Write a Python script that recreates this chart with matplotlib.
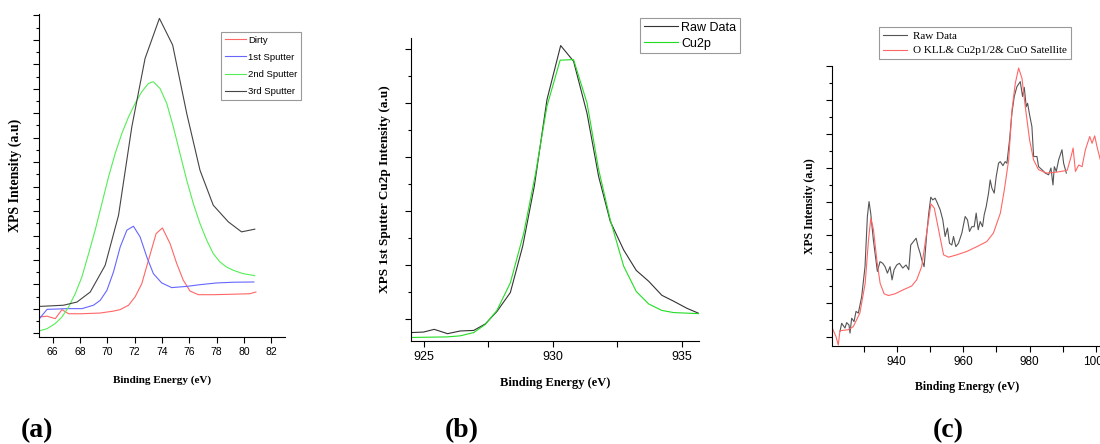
import matplotlib.pyplot as plt
from matplotlib.ticker import MultipleLocator

# (a) XPS spectra after successive sputtering
dirty_x = [65.03, 65.59, 66.19, 66.68, 67.17, 68.02, 69.48, 70.45, 70.94, 71.55, 72.03, 72.52,
           73.01, 73.57, 74.03, 74.59, 75.08, 75.56, 76.05, 76.66, 77.75, 79.21, 80.43, 80.87]
dirty_y = [0.67, 0.70, 0.60, 0.97, 0.80, 0.80, 0.83, 0.91, 0.97, 1.15, 1.49, 2.03,
           2.99, 4.08, 4.31, 3.67, 2.85, 2.17, 1.73, 1.58, 1.58, 1.60, 1.62, 1.69]
sp1_x = [65.03, 65.59, 67.05, 68.14, 68.99, 69.48, 69.97, 70.45, 70.94, 71.43, 71.91, 72.40,
         72.89, 73.37, 73.98, 74.71, 75.81, 76.78, 77.99, 79.21, 80.72]
sp1_y = [0.60, 0.98, 1.01, 1.01, 1.15, 1.35, 1.76, 2.51, 3.53, 4.22, 4.38, 3.94,
         3.12, 2.44, 2.06, 1.87, 1.92, 1.99, 2.06, 2.09, 2.10]
sp2_x = [65.03, 65.59, 66.19, 66.68, 67.17, 67.65, 68.14, 68.63, 69.11, 69.60, 70.09, 70.57,
         71.06, 71.55, 72.03, 72.52, 73.01, 73.37, 73.86, 74.35, 74.83, 75.32, 75.81, 76.29,
         76.78, 77.27, 77.75, 78.24, 78.73, 79.21, 79.94, 80.79]
sp2_y = [0.10, 0.19, 0.40, 0.67, 1.08, 1.62, 2.31, 3.26, 4.22, 5.31, 6.40, 7.35,
         8.17, 8.85, 9.40, 9.88, 10.22, 10.29, 10.01, 9.40, 8.44, 7.35, 6.26, 5.31,
         4.49, 3.81, 3.26, 2.92, 2.71, 2.58, 2.44, 2.36]
sp3_x = [65.03, 66.80, 67.78, 68.75, 69.84, 70.82, 71.79, 72.76, 73.81, 74.78, 75.81, 76.78,
         77.75, 78.85, 79.82, 80.79]
sp3_y = [1.10, 1.15, 1.28, 1.69, 2.78, 4.83, 8.44, 11.24, 12.88, 11.79, 8.99, 6.67,
         5.24, 4.56, 4.15, 4.26]

# (b) Cu2p after 1st sputter
raw_b_x = [924.51, 925.0, 925.41, 925.93, 926.42, 926.94, 927.39, 927.84, 928.36, 928.84,
           929.29, 929.78, 930.31, 930.81, 931.33, 931.78, 932.23, 932.75, 933.24, 933.72,
           934.23, 934.69, 935.20, 935.69]
raw_b_y = [-0.25, -0.24, -0.19, -0.27, -0.22, -0.21, -0.09, 0.14, 0.49, 1.35,
           2.46, 4.06, 5.06, 4.77, 3.81, 2.64, 1.81, 1.28, 0.90, 0.70,
           0.44, 0.33, 0.20, 0.10]
fit_b_x = [924.51, 925.90, 926.42, 926.94, 927.39, 927.84, 928.36, 928.88, 929.34, 929.78,
           930.29, 930.81, 931.33, 931.78, 932.23, 932.75, 933.24, 933.72, 934.23, 934.69,
           935.20, 935.69]
fit_b_y = [-0.34, -0.33, -0.31, -0.25, -0.10, 0.16, 0.67, 1.59, 2.70, 3.94,
           4.79, 4.80, 4.00, 2.77, 1.84, 0.98, 0.51, 0.28, 0.16, 0.12,
           0.11, 0.10]

# (c) wide scan with O KLL, Cu2p1/2 and CuO satellite
raw_c_x = [922.91, 923.42, 924.42, 924.92, 925.63, 925.93, 926.43, 927.14, 927.74, 928.44,
           929.45, 930.45, 931.16, 931.66, 932.16, 932.96, 934.17, 934.97, 935.78, 936.48,
           937.19, 937.99, 938.59, 939.20, 940.00, 940.80, 941.81, 942.81, 943.62, 944.22,
           945.03, 945.83, 946.43, 947.04, 947.54, 948.24, 949.05, 949.65, 950.25, 950.85,
           951.56, 952.26, 953.07, 953.87, 954.57, 955.28, 955.88, 956.58, 957.09, 957.79,
           958.59, 959.60, 960.60, 961.31, 961.91, 962.61, 963.32, 963.92, 964.52, 965.13,
           965.83, 966.33, 966.93, 967.64, 968.14, 968.64, 969.35, 969.95, 970.65, 971.16,
           971.96, 972.66, 973.17, 973.97, 974.67, 975.38, 976.18, 977.19, 977.89, 978.39,
           978.99, 979.40, 980.00, 980.70, 981.21, 982.21, 982.71, 983.72, 984.72, 985.73,
           986.43, 987.04, 987.44, 988.04, 988.74, 989.75, 990.25, 991.06]
raw_c_y = [0.17, 0.41, 0.27, 0.43, 0.36, 0.12, 0.56, 0.46, 0.76, 0.71,
           1.20, 2.08, 3.56, 4.00, 3.66, 2.87, 1.94, 2.23, 2.18, 2.08,
           1.89, 2.08, 1.69, 1.99, 2.13, 2.18, 2.04, 2.13, 1.99, 2.72,
           2.82, 2.92, 2.67, 2.48, 2.28, 2.08, 3.07, 3.66, 4.13, 4.05,
           4.10, 3.95, 3.76, 3.46, 2.97, 3.22, 2.77, 2.72, 2.97, 2.67,
           2.77, 3.07, 3.56, 3.46, 3.12, 3.26, 3.26, 3.66, 3.17, 3.41,
           3.26, 3.61, 3.85, 4.25, 4.64, 4.40, 4.25, 4.74, 5.13, 5.18,
           5.06, 5.18, 5.13, 5.82, 6.61, 7.10, 7.39, 7.54, 7.10, 7.37,
           6.80, 6.90, 6.56, 6.21, 5.33, 5.33, 5.03, 4.94, 4.84, 4.79,
           4.99, 4.49, 5.03, 4.89, 5.23, 5.53, 5.13, 4.84]
fit_c_x = [920.6, 921.7, 922.4, 922.9, 925.4, 926.9, 928.9, 930.5, 931.5, 932.2,
           933.0, 934.0, 935.0, 936.2, 937.5, 939.5, 942.0, 944.5, 946.0, 947.5,
           949.0, 950.3, 951.3, 952.6, 954.1, 955.6, 958.1, 961.1, 964.1, 967.1,
           969.1, 971.2, 972.4, 973.7, 974.7, 975.7, 976.7, 977.7, 978.7, 980.0,
           981.2, 982.7, 985.2, 988.2, 991.3, 992.5, 993.1, 993.8, 994.8, 995.8,
           996.8, 998.1, 998.8, 999.6, 1000.3, 1001.3]
fit_c_y = [0.27, 0.02, -0.23, 0.19, 0.22, 0.31, 0.71, 1.59, 2.87, 3.51,
           3.17, 2.28, 1.59, 1.28, 1.23, 1.28, 1.40, 1.51, 1.69, 2.08,
           3.07, 3.93, 3.81, 3.17, 2.43, 2.36, 2.43, 2.53, 2.67, 2.82,
           3.07, 3.66, 4.35, 5.23, 6.71, 7.49, 7.94, 7.64, 6.80, 5.82,
           5.23, 4.94, 4.84, 4.87, 4.92, 5.33, 5.58, 4.89, 5.08, 5.03,
           5.53, 5.92, 5.72, 5.94, 5.62, 5.23]

W, H = 1100, 444
sans = ['Liberation Sans Narrow', 'Liberation Sans']
serif = ['Liberation Serif']

fig = plt.figure(figsize=(11, 4.44), dpi=100)


def box(l, t, r, b):
    return [l / W, 1 - b / H, (r - l) / W, (b - t) / H]


def style(ax, tick_size):
    for s in ['top', 'right']:
        ax.spines[s].set_visible(False)
    ax.tick_params(which='both', direction='out', labelleft=False, width=0.8)
    ax.tick_params(which='major', length=4)
    ax.tick_params(which='minor', length=2)
    for lab in ax.get_xticklabels():
        lab.set_family(sans)
        lab.set_fontsize(tick_size)


def legend(ax, x, y, size, fam, **kw):
    leg = ax.legend(loc='upper left', bbox_to_anchor=(x / W, 1 - y / H),
                    bbox_transform=fig.transFigure, borderaxespad=0,
                    fancybox=False, framealpha=1, edgecolor='#999999',
                    prop={'family': fam, 'size': size}, **kw)
    leg.get_frame().set_linewidth(0.8)
    return leg


# panel (a)
ax1 = fig.add_axes(box(39, 14, 285, 337))
ax1.plot(dirty_x, dirty_y, color='#ff6666', lw=0.8, label='Dirty')
ax1.plot(sp1_x, sp1_y, color='#6666ff', lw=0.8, label='1st Sputter')
ax1.plot(sp2_x, sp2_y, color='#55ee55', lw=0.8, label='2nd Sputter')
ax1.plot(sp3_x, sp3_y, color='#444444', lw=0.8, label='3rd Sputter')
ax1.set_xlim(65, 83)
ax1.set_ylim(-0.15, 13.06)
ax1.xaxis.set_major_locator(MultipleLocator(2))
ax1.yaxis.set_major_locator(MultipleLocator(1))
ax1.yaxis.set_minor_locator(MultipleLocator(0.5))
style(ax1, 7.5)
ax1.set_xlabel('Binding Energy (eV)', family=serif, weight='bold', fontsize=8, labelpad=13)
ax1.set_ylabel('XPS Intensity (a.u)', family=serif, weight='bold', fontsize=10, labelpad=8)
legend(ax1, 221, 32, 6.8, sans, handlelength=2.2, labelspacing=0.85, handletextpad=0.3,
       borderpad=0.4)

# panel (b)
ax2 = fig.add_axes(box(410.7, 38, 699, 340.7))
ax2.plot(raw_b_x, raw_b_y, color='#333333', lw=0.8, label='Raw Data')
ax2.plot(fit_b_x, fit_b_y, color='#22dd22', lw=0.8, label='Cu2p')
ax2.set_xlim(924.5, 935.67)
ax2.set_ylim(-0.4, 5.2)
ax2.xaxis.set_major_locator(MultipleLocator(5))
ax2.xaxis.set_minor_locator(MultipleLocator(2.5))
ax2.yaxis.set_major_locator(MultipleLocator(1))
ax2.yaxis.set_minor_locator(MultipleLocator(0.5))
style(ax2, 9)
ax2.tick_params(axis='x', which='minor', length=4)
ax2.set_xlabel('Binding Energy (eV)', family=serif, weight='bold', fontsize=9, labelpad=10)
ax2.set_ylabel('XPS 1st Sputter Cu2p Intensity (a.u)', family=serif, weight='bold',
               fontsize=9.5, labelpad=10)
legend(ax2, 640, 18, 9, sans, handlelength=2.7, labelspacing=0.3, handletextpad=0.3,
       borderpad=0.3)

# panel (c)
ax3 = fig.add_axes(box(832.3, 66, 1102, 346))
ax3.plot(raw_c_x, raw_c_y, color='#555555', lw=0.8, label='Raw Data')
ax3.plot(fit_c_x, fit_c_y, color='#ff6666', lw=0.8, label='O KLL& Cu2p1/2& CuO Satellite')
ax3.set_xlim(920.6, 1001.8)
ax3.set_ylim(-0.26, 8.0)
ax3.xaxis.set_major_locator(MultipleLocator(20))
ax3.xaxis.set_minor_locator(MultipleLocator(10))
ax3.yaxis.set_major_locator(MultipleLocator(1))
ax3.yaxis.set_minor_locator(MultipleLocator(0.5))
style(ax3, 8.5)
ax3.tick_params(axis='x', which='minor', length=4)
ax3.set_xlabel('Binding Energy (eV)', family=serif, weight='bold', fontsize=8.5, labelpad=9)
ax3.set_ylabel('XPS Intensity (a.u)', family=serif, weight='bold', fontsize=8.5, labelpad=8)
legend(ax3, 879, 27, 8, serif, handlelength=2.2, labelspacing=0.45, handletextpad=0.5,
       borderpad=0.35)

# panel letters
for txt, x in [('(a)', 37), ('(b)', 462), ('(c)', 948)]:
    fig.text(x / W, 1 - 431 / H, txt, family=serif, weight='bold', fontsize=20,
             ha='center', va='center')

fig.savefig('out.png', dpi=100)
